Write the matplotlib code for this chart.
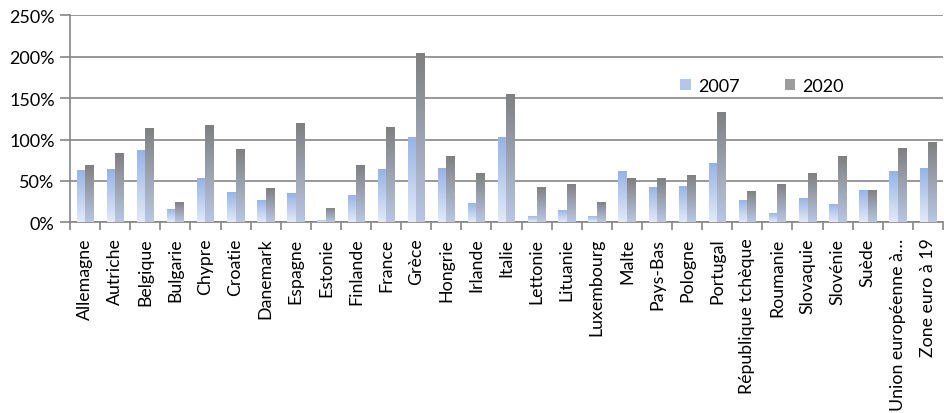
import numpy as np
import matplotlib
matplotlib.use("Agg")
import matplotlib.pyplot as plt
from matplotlib.colors import LinearSegmentedColormap
from matplotlib.patches import Patch

categories = ["Allemagne", "Autriche", "Belgique", "Bulgarie", "Chypre", "Croatie",
              "Danemark", "Espagne", "Estonie", "Finlande", "France", "Grèce",
              "Hongrie", "Irlande", "Italie", "Lettonie", "Lituanie", "Luxembourg",
              "Malte", "Pays-Bas", "Pologne", "Portugal", "République tchèque",
              "Roumanie", "Slovaquie", "Slovénie", "Suède", "Union européenne à…",
              "Zone euro à 19"]
v2007 = [63, 64, 87, 16, 53, 36.5, 27, 35, 3, 33, 64, 103, 65.5, 23, 103, 7.6, 15, 7.6,
         62, 42.6, 44, 71.5, 27, 11, 29, 22, 39, 62, 65.5]
v2020 = [69, 84, 114, 24.5, 117, 88, 41, 120, 17, 69, 115, 204, 80, 59, 155, 42.6, 46, 24.5,
         53, 53, 57, 133, 38, 46, 59, 80, 39, 89.6, 97]
series_names = ["2007", "2020"]
yticks = [0, 50, 100, 150, 200, 250]

plt.rcParams['font.family'] = ['Lato', 'DejaVu Sans']
grid_col = "#868686"

fig = plt.figure(figsize=(9.45, 4.14), dpi=100)
ax = fig.add_axes([70/945, 1 - 223.3/414, 1 - 70/945 - 2/945, (223.3 - 16.3)/414])

cm07 = LinearSegmentedColormap.from_list("c07", ["#e3eaf7", "#95b2e6"])
cm20 = LinearSegmentedColormap.from_list("c20", ["#b9c7e5", "#7f7f7f"])
grad = np.linspace(0, 1, 256).reshape(-1, 1)

x = np.arange(len(categories))
w = 0.28
for vals, off, cm in [(v2007, -w / 2, cm07), (v2020, w / 2, cm20)]:
    bars = ax.bar(x + off, vals, width=w, color="none", edgecolor="none", zorder=3)
    for b in bars:
        x0, y0 = b.get_x(), b.get_y()
        im = ax.imshow(grad, cmap=cm, origin="lower", aspect="auto",
                       extent=(x0, x0 + b.get_width(), y0, y0 + b.get_height()),
                       zorder=3, interpolation="bilinear")
        im.set_clip_path(b)

ax.set_xlim(-0.5, len(categories) - 0.5)
ax.set_ylim(0, 250)
ax.set_yticks(yticks)
ax.set_yticklabels([f"{t}%" for t in yticks], fontsize=13)
ax.yaxis.grid(True, color=grid_col, linewidth=1.2, zorder=0)
ax.set_axisbelow(True)
ax.tick_params(axis="y", length=7, color=grid_col, width=1.2, pad=4)

ax.set_xticks(x)
ax.set_xticklabels(categories, rotation=90, fontsize=12.8)
ax.tick_params(axis="x", length=0, pad=11)
ax.set_xticks(np.arange(len(categories) + 1) - 0.5, minor=True)
ax.tick_params(axis="x", which="minor", length=6, color=grid_col, width=1.2)

for s in ["top", "right"]:
    ax.spines[s].set_visible(False)
for s in ["left", "bottom"]:
    ax.spines[s].set_color(grid_col)
    ax.spines[s].set_linewidth(1.2)

handles = [Patch(facecolor="#b3c6ee", edgecolor="none"), Patch(facecolor="#9c9c9c", edgecolor="none")]
leg = ax.legend(handles, series_names, loc="center", frameon=False, fontsize=13, ncol=2,
                handlelength=0.6, handleheight=0.6, handletextpad=0.4, columnspacing=2.5)
leg.set_bbox_to_anchor((762/945, 1 - 87/414), transform=fig.transFigure)

fig.savefig("out.png", dpi=100)
